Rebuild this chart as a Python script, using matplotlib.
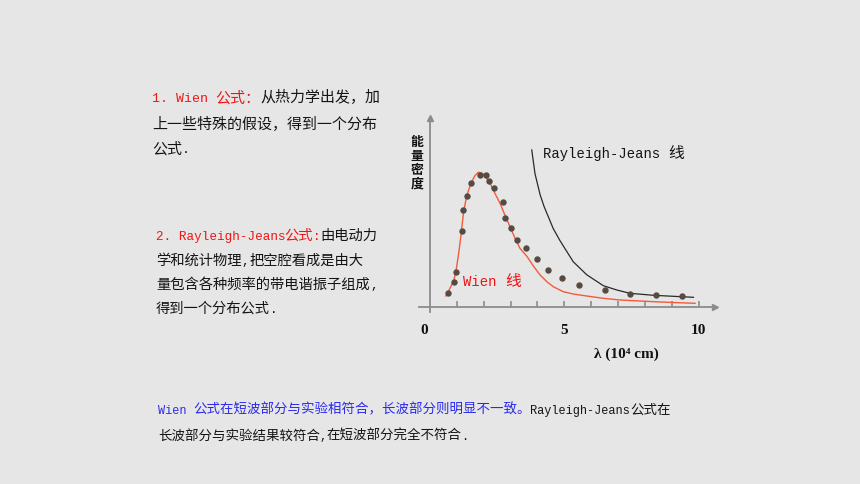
import matplotlib
matplotlib.use("Agg")
import matplotlib.pyplot as plt

# ---------------- data ----------------
wavelength_dots = [0.695, 0.90, 0.98, 1.18, 1.25, 1.39, 1.53, 1.855, 2.09, 2.21, 2.37,
                   2.71, 2.81, 3.03, 3.23, 3.58, 3.97, 4.38, 4.90, 5.56, 6.51, 7.44, 8.41, 9.37]
energy_dots = [14, 24.7, 34.4, 75.7, 96.7, 110.4, 124, 131.4, 131.4, 126, 118.7,
               105, 89, 78.4, 66.7, 58.4, 47.7, 37, 28.4, 22, 16.3, 13, 11.8, 10.7]

wien_x = [0.60, 0.75, 0.90, 1.00, 1.09, 1.16, 1.25, 1.37, 1.52, 1.67, 1.80, 1.93, 2.05,
          2.24, 2.42, 2.61, 2.79, 2.98, 3.17, 3.35, 3.60, 3.85, 4.10, 4.35, 4.59, 4.96,
          5.33, 5.83, 6.45, 7.07, 7.81, 8.56, 9.86]
wien_y = [10.7, 18.4, 26.7, 40, 56.7, 71.7, 93.4, 110.7, 122.7, 130.7, 134.4, 133.7, 131,
          123.4, 113.4, 103.4, 91.7, 80, 68.4, 58.4, 50.7, 40.7, 31.7, 25, 20, 15,
          12.7, 10.7, 8.4, 6.7, 5.7, 4.7, 3.4]

rj_x = [3.79, 3.91, 4.10, 4.25, 4.59, 4.84, 5.33, 5.83, 6.45, 6.95, 7.44, 8.31, 9.80]
rj_y = [156.7, 133, 112, 100, 78, 66, 45, 32, 21, 16.7, 13.4, 11.4, 9.4]

tick_values = [0, 5, 10]
tick_labels = ["0", "5", "10"]
minor_ticks = [1, 2, 3, 4, 5, 6, 7, 8, 9, 10]

x_label = "λ (10⁴ cm)"
y_label = "能\n量\n密\n度"
rj_label = "Rayleigh-Jeans 线"
wien_label = "Wien 线"

BG = "#e6e6e6"
RED = "#f01414"
BLUE = "#2a2af0"
BLACK = "#141414"
GRAY = "#8c8c8c"

block1 = [[("1. Wien 公式：", RED), ("从热力学出发，加", BLACK)],
          [("上一些特殊的假设，得到一个分布", BLACK)],
          [("公式.", BLACK)]]
block2 = [[("2. Rayleigh-Jeans公式:", RED), ("由电动力", BLACK)],
          [("学和统计物理,把空腔看成是由大", BLACK)],
          [("量包含各种频率的带电谐振子组成,", BLACK)],
          [("得到一个分布公式.", BLACK)]]
block3 = [[("Wien 公式在短波部分与实验相符合，长波部分则明显不一致。", BLUE),
           ("Rayleigh-Jeans公式在", BLACK)],
          [("长波部分与实验结果较符合,在短波部分完全不符合.", BLACK)]]

MONO = ["Liberation Mono", "DejaVu Sans Mono"]
CJK = ["Noto Sans CJK SC", "DejaVu Sans"]
SERIF = ["Liberation Serif", "DejaVu Serif"]

W, H = 860, 484
fig = plt.figure(figsize=(W / 100, H / 100), dpi=100, facecolor=BG)


def fx(px):
    return px / W


def fy(py):
    return 1 - py / H


# ---------------- chart axes ----------------
left_px, right_px, top_px, bot_px = 419.3, 715.0, 118.3, 311.7
ax = fig.add_axes([fx(left_px), fy(bot_px), fx(right_px) - fx(left_px), fy(top_px) - fy(bot_px)])
ax.set_facecolor("none")
ax.set_xlim(-0.39, 10.60)
ax.set_ylim(-5.0, 188.4)
for s in ["top", "right"]:
    ax.spines[s].set_visible(False)
ax.spines["left"].set_position(("data", 0))
ax.spines["bottom"].set_position(("data", 0))
for s in ["left", "bottom"]:
    ax.spines[s].set_color(GRAY)
    ax.spines[s].set_linewidth(1.3)
ax.plot(1, 0, ">", color=GRAY, ms=5, transform=ax.get_yaxis_transform(), clip_on=False)
ax.plot(0, 1, "^", color=GRAY, ms=5, transform=ax.get_xaxis_transform(), clip_on=False)

ax.set_yticks([])
ax.set_xticks([])
ax.set_xticks(minor_ticks, minor=True)
ax.tick_params(axis="x", which="minor", direction="in", length=4.5, width=1.2, color=GRAY)

for v, lbl in zip(tick_values, tick_labels):
    dx = -6 if v == 0 else 0
    ax.annotate(lbl, xy=(v, 0), xytext=(dx, -24), textcoords="offset pixels",
                ha="center", va="center", fontsize=11, fontweight="bold", family=SERIF,
                color="#111111", annotation_clip=False)

ax.plot(wien_x, wien_y, color="#f45a3c", lw=1.0)
ax.plot(rj_x, rj_y, color="#2a2a2a", lw=0.9)
ax.plot(wavelength_dots, energy_dots, "o", color="#554b43", ms=4.6, mec="none")

fig.text(fx(626.7), fy(354.5), x_label, ha="center", va="center", fontsize=11,
         fontweight="bold", family=SERIF, color="#111111")
fig.text(fx(417), fy(162.5), y_label, ha="center", va="center", fontsize=9.3,
         fontweight="bold", family=CJK, color="#111111", linespacing=1.0)


# ---------------- mixed-script text lines ----------------
LATIN_SCALE = 0.88


def runs(text):
    out = []
    for ch in text:
        kind = ch.isascii()
        if out and out[-1][0] == kind:
            out[-1][1] += ch
        else:
            out.append([kind, ch])
    return out


def rich_line(x_px, y_center_px, segments, size):
    em = size * 100 / 72.0           # pixels per em
    base = y_center_px + 0.36 * em   # baseline from visual centre
    cur = x_px
    for text, color in segments:
        for is_ascii, chunk in runs(text):
            if is_ascii:
                fs = size * LATIN_SCALE
                fig.text(fx(cur), fy(base), chunk, color=color, fontsize=fs, family=MONO,
                         ha="left", va="baseline")
                cur += len(chunk) * 0.6 * fs * 100 / 72.0
            else:
                fig.text(fx(cur), fy(base), chunk, color=color, fontsize=size, family=CJK,
                         ha="left", va="baseline")
                cur += len(chunk) * em


rich_line(543.3, 152.3, [(rj_label, BLACK)], 11.4)
rich_line(463.3, 280, [(wien_label, RED)], 11.4)

for (line, y) in zip(block1, [97, 123, 148]):
    rich_line(152, y, line, 10.8)
for (line, y) in zip(block2, [235, 260, 284, 308]):
    rich_line(156, y, line, 10.3)
for (line, y) in zip(block3, [409, 435]):
    rich_line(158, y, line, 9.7)

fig.savefig("out.png", dpi=100, facecolor=BG)
